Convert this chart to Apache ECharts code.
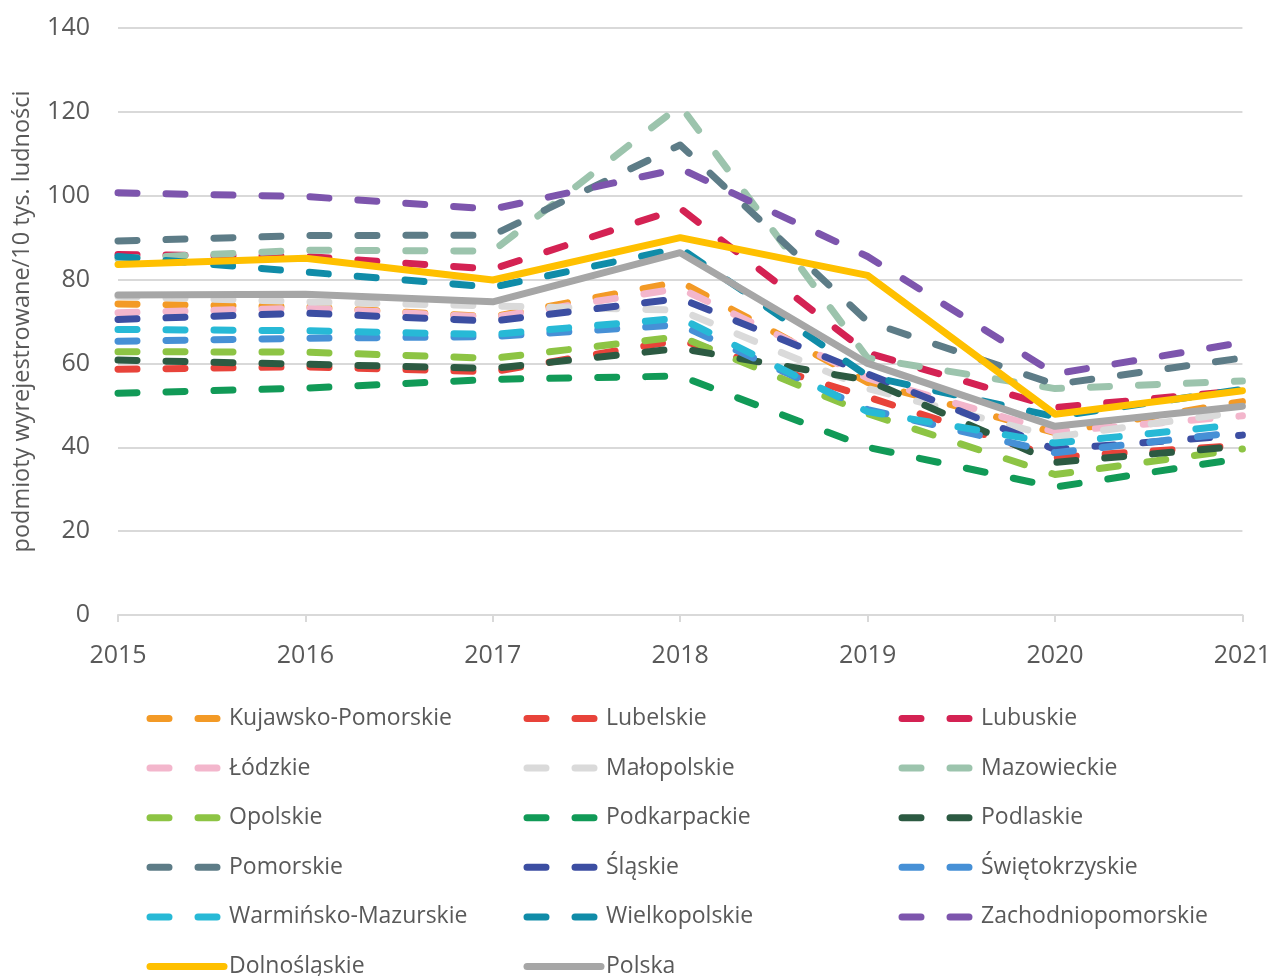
<!DOCTYPE html>
<html>
<head>
<meta charset="utf-8">
<script src="https://cdn.jsdelivr.net/npm/echarts@6/dist/echarts.min.js"></script>
<style>
  html, body { margin: 0; padding: 0; background: #fff; }
  #main { width: 1274px; height: 976px; }
</style>
</head>
<body>
<div id="main"></div>
<script>
// lata
var years = ['2015', '2016', '2017', '2018', '2019', '2020', '2021'];

// podmioty wyrejestrowane / 10 tys. ludności
var kujawskoPomorskie = [74.2, 73.5, 71.1, 79.5, 55.5, 43.5, 50.9];
var lubelskie = [58.6, 59.2, 58.0, 65.6, 52.0, 37.6, 40.5];
var lubuskie = [86.0, 85.5, 82.5, 97.0, 62.5, 49.5, 53.5];
var lodzkie = [72.1, 73.2, 71.0, 77.9, 56.5, 43.7, 47.5];
var malopolskie = [76.0, 74.7, 73.7, 72.7, 54.0, 42.5, 48.5];
var mazowieckie = [85.0, 87.0, 86.8, 121.5, 61.3, 54.0, 55.8];
var opolskie = [62.8, 62.7, 61.2, 66.4, 48.0, 33.5, 39.6];
var podkarpackie = [52.9, 54.1, 56.2, 57.0, 40.0, 30.5, 37.4];
var podlaskie = [60.8, 59.8, 58.8, 63.6, 56.0, 36.4, 40.3];
var pomorskie = [89.2, 90.5, 90.6, 112.1, 70.0, 55.0, 61.3];
var slaskie = [70.5, 72.0, 70.1, 75.5, 57.5, 39.5, 42.9];
var swietokrzyskie = [65.3, 66.0, 66.4, 69.2, 49.0, 38.7, 43.7];
var warminskoMazurskie = [68.1, 67.8, 66.9, 70.8, 48.5, 41.0, 45.5];
var wielkopolskie = [85.5, 81.8, 78.2, 87.5, 57.0, 47.3, 53.8];
var zachodniopomorskie = [100.7, 99.8, 96.8, 106.5, 85.5, 57.5, 65.0];
var dolnoslaskie = [83.6, 85.1, 79.9, 90.0, 81.0, 47.9, 53.5];
var polska = [76.3, 76.5, 74.7, 86.4, 60.0, 45.0, 49.8];

var yTicks = [0, 20, 40, 60, 80, 100, 120, 140];

var seriesDef = [
  ['Kujawsko-Pomorskie', kujawskoPomorskie, '#f39a26', true],
  ['Lubelskie', lubelskie, '#e8433a', true],
  ['Lubuskie', lubuskie, '#d42253', true],
  ['Łódzkie', lodzkie, '#f3b6cc', true],
  ['Małopolskie', malopolskie, '#dadada', true],
  ['Mazowieckie', mazowieckie, '#9cc4ad', true],
  ['Opolskie', opolskie, '#8dc444', true],
  ['Podkarpackie', podkarpackie, '#119a57', true],
  ['Podlaskie', podlaskie, '#2c5a42', true],
  ['Pomorskie', pomorskie, '#5d7c87', true],
  ['Śląskie', slaskie, '#3c4ea2', true],
  ['Świętokrzyskie', swietokrzyskie, '#4690d6', true],
  ['Warmińsko-Mazurskie', warminskoMazurskie, '#27b9d6', true],
  ['Wielkopolskie', wielkopolskie, '#108ca8', true],
  ['Zachodniopomorskie', zachodniopomorskie, '#7d55ad', true],
  ['Dolnośląskie', dolnoslaskie, '#ffc000', false],
  ['Polska', polska, '#a6a6a6', false]
];

// legenda: trzy kolumny
var legendCols = [
  ['Kujawsko-Pomorskie', 'Łódzkie', 'Opolskie', 'Pomorskie', 'Warmińsko-Mazurskie', 'Dolnośląskie'],
  ['Lubelskie', 'Małopolskie', 'Podkarpackie', 'Śląskie', 'Wielkopolskie', 'Polska'],
  ['Lubuskie', 'Mazowieckie', 'Podlaskie', 'Świętokrzyskie', 'Zachodniopomorskie']
];
var colLeft = [146.5, 523.5, 898.5];

var FONT = 'Open Sans';
var TXT = '#595959';

var series = seriesDef.map(function (d) {
  return {
    name: d[0],
    type: 'line',
    data: d[1],
    symbol: 'none',
    showSymbol: false,
    color: d[2],
    lineStyle: {
      color: d[2],
      width: 7,
      type: d[3] ? [19, 29] : 'solid',
      cap: 'round',
      join: 'round'
    }
  };
});

var legends = [];
legendCols.forEach(function (col, c) {
  col.forEach(function (name, r) {
    legends.push({
      left: colLeft[c],
      top: 707 + r * 49.6,
      padding: 0,
      itemWidth: 74,
      itemHeight: 14,
      data: [name],
      itemStyle: { opacity: 0 },
      lineStyle: { width: 7, cap: 'round', type: 'inherit' },
      textStyle: { fontFamily: FONT, fontSize: 23, color: TXT }
    });
  });
});

var myChart = echarts.init(document.getElementById('main'));

var option = {
  backgroundColor: '#ffffff',
  animation: false,
  grid: { left: 118, right: 30, top: 28, bottom: 361, containLabel: false },
  legend: legends,
  xAxis: {
    type: 'category',
    data: years,
    boundaryGap: false,
    axisLine: { lineStyle: { color: '#d9d9d9', width: 2 } },
    axisTick: { show: true, length: 7, lineStyle: { color: '#d9d9d9', width: 2 }, interval: 0 },
    axisLabel: { fontFamily: FONT, fontSize: 25, color: TXT, margin: 28 }
  },
  yAxis: {
    type: 'value',
    min: yTicks[0],
    max: yTicks[yTicks.length - 1],
    interval: 20,
    name: 'podmioty wyrejestrowane/10 tys. ludności',
    nameLocation: 'middle',
    nameGap: 84,
    nameTextStyle: { fontFamily: FONT, fontSize: 23.5, color: TXT },
    axisLine: { show: false },
    axisTick: { show: false },
    axisLabel: { fontFamily: FONT, fontSize: 25, color: TXT, margin: 28 },
    splitLine: { lineStyle: { color: '#d9d9d9', width: 2 } }
  },
  series: series
};

myChart.setOption(option);
</script>
</body>
</html>
